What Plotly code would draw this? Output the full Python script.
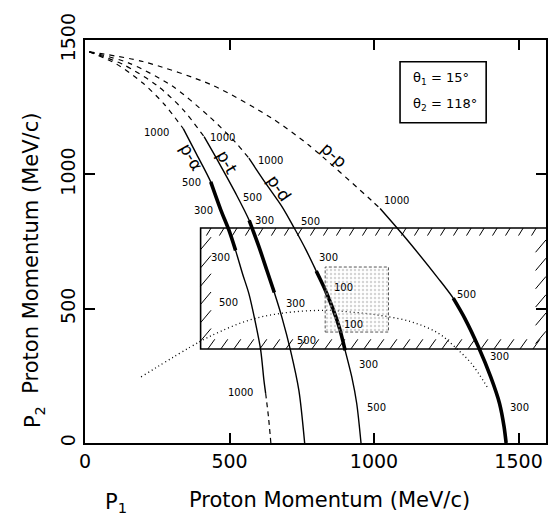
import plotly.graph_objects as go

# ---------------- data ----------------
# dashed (unobserved) upper parts of the kinematic loci
pa_dash_x = [15, 110, 200, 275, 340]
pa_dash_y = [1456, 1410, 1340, 1260, 1170]
pt_dash_x = [15, 130, 250, 340, 412]
pt_dash_y = [1456, 1410, 1330, 1240, 1140]
pd_dash_x = [15, 150, 300, 430, 520, 567]
pd_dash_y = [1456, 1415, 1330, 1215, 1120, 1060]
pp_dash_x = [15, 200, 440, 646, 774, 991, 1021]
pp_dash_y = [1456, 1420, 1332, 1209, 1109, 903, 873]

# solid parts
pa_x = [340, 384, 435, 470, 498, 521, 545, 567, 590, 608, 619, 625]
pa_y = [1170, 1079, 972, 867, 792, 717, 630, 556, 446, 345, 234, 185]
pa_tail_x = [625, 635, 643]
pa_tail_y = [185, 95, 0]
pt_x = [412, 464, 521, 568, 602, 630, 655, 682, 711, 740, 760]
pt_y = [1140, 1042, 930, 829, 730, 640, 560, 465, 345, 196, 0]
pd_x = [567, 625, 682, 722, 765, 800, 835, 877, 900, 923, 940, 955]
pd_y = [1060, 967, 879, 804, 718, 640, 560, 440, 345, 246, 148, 0]
pp_x = [1021, 1100, 1222, 1274, 1314, 1361, 1404, 1434, 1450, 1457]
pp_y = [873, 775, 613, 539, 464, 358, 245, 148, 60, 0]

# thick (accepted) ranges in P2
pa_thick = [700, 975]
pt_thick = [555, 830]
pd_thick = [340, 650]
pp_thick = [0, 545]

# dotted curve
dot_x = [194, 395, 464, 567, 681, 832, 913, 1015, 1129, 1222, 1279, 1336, 1394]
dot_y = [246, 376, 413, 457, 483, 494, 488, 476, 451, 409, 358, 297, 204]

# hatched acceptance box and stippled box
hatch_x = [400, 1595]
hatch_y = [350, 800]
stip_x = [831, 1050]
stip_y = [413, 655]

# number labels along the curves
num_text = ["1000", "500", "300", "300", "500", "1000",
            "1000", "500", "300", "300", "500",
            "1000", "500", "300", "100", "100", "300", "500",
            "1000", "500", "300", "300"]
num_x = [247, 368, 409, 468, 497, 537,
         474, 581, 622, 729, 767,
         643, 780, 843, 895, 929, 981, 1008,
         1077, 1321, 1435, 1504]
num_y = [1157, 970, 866, 691, 524, 189,
         1138, 915, 829, 520, 382,
         1052, 823, 692, 580, 442, 293, 133,
         903, 553, 323, 133]

# curve names
name_text = ["p-α", "p-t", "p-d", "p-p"]
name_x = [368, 491, 671, 862]
name_y = [1063, 1045, 948, 1071]
name_ang = [60, 60, 55, 42]

# legend box
leg_x = [1090, 1388]
leg_y = [1192, 1419]

ticks = [0, 500, 1000, 1500]

# ---------------- figure ----------------
fig = go.Figure()
BLK = "black"


def add_line(x, y, width=1.4, dash="solid"):
    fig.add_trace(go.Scatter(x=x, y=y, mode="lines", showlegend=False, hoverinfo="skip",
                             line=dict(color=BLK, width=width, dash=dash, shape="spline", smoothing=0.8)))


for dx, dy in [(pa_dash_x, pa_dash_y), (pt_dash_x, pt_dash_y), (pd_dash_x, pd_dash_y), (pp_dash_x, pp_dash_y)]:
    add_line(dx, dy, 1.2, "5px,5px")

for sx, sy, th in [(pa_x, pa_y, pa_thick), (pt_x, pt_y, pt_thick), (pd_x, pd_y, pd_thick), (pp_x, pp_y, pp_thick)]:
    add_line(sx, sy, 1.4)
    tx = [a for a, b in zip(sx, sy) if th[0] <= b <= th[1]]
    ty = [b for b in sy if th[0] <= b <= th[1]]
    add_line(tx, ty, 3.6)

add_line(pa_tail_x, pa_tail_y, 1.2, "5px,4px")

# dotted curve
fig.add_trace(go.Scatter(x=dot_x, y=dot_y, mode="lines", showlegend=False, hoverinfo="skip",
                         line=dict(color=BLK, width=1.3, dash="1px,3px", shape="spline")))

# stippled box
fig.add_trace(go.Scatter(x=[stip_x[0], stip_x[1], stip_x[1], stip_x[0], stip_x[0]],
                         y=[stip_y[0], stip_y[0], stip_y[1], stip_y[1], stip_y[0]],
                         mode="lines", fill="toself", showlegend=False, hoverinfo="skip",
                         fillcolor="rgba(255,255,255,0)",
                         fillpattern=dict(shape=".", fgcolor="#aaaaaa", bgcolor="rgba(255,255,255,0)",
                                          size=4, solidity=0.3),
                         line=dict(color="#555555", width=1, dash="3px,2px")))

# hatched box outline
fig.add_trace(go.Scatter(x=[hatch_x[1], hatch_x[0], hatch_x[0], hatch_x[1]],
                         y=[hatch_y[1], hatch_y[1], hatch_y[0], hatch_y[0]],
                         mode="lines", showlegend=False, hoverinfo="skip",
                         line=dict(color=BLK, width=1.6)))

# hatch marks along the inside of the box edges
hx, hy = [], []
x = hatch_x[0] + 20
while x < hatch_x[1] - 20:
    hx += [x, x + 16, None]
    hy += [hatch_y[1] - 28, hatch_y[1], None]
    hx += [x + 5, x + 29, None]
    hy += [hatch_y[0], hatch_y[0] + 36, None]
    x += 45
y = hatch_y[0] + 30
while y < hatch_y[1] - 40:
    hx += [hatch_x[0], hatch_x[0] + 36, None]
    hy += [y, y + 46, None]
    hx += [hatch_x[1] - 36, hatch_x[1], None]
    hy += [y - 10, y + 36, None]
    y += 68
fig.add_trace(go.Scatter(x=hx, y=hy, mode="lines", showlegend=False, hoverinfo="skip",
                         line=dict(color=BLK, width=1)))

# number labels
for t, xx, yy in zip(num_text, num_x, num_y):
    fig.add_annotation(x=xx, y=yy, text=t, showarrow=False,
                       font=dict(family="DejaVu Sans", size=10, color=BLK))

# curve names
for t, xx, yy, a in zip(name_text, name_x, name_y, name_ang):
    fig.add_annotation(x=xx, y=yy, text=t, showarrow=False, textangle=a,
                       font=dict(family="DejaVu Sans", size=17, color=BLK))

# legend box
fig.add_shape(type="rect", x0=leg_x[0], x1=leg_x[1], y0=leg_y[0], y1=leg_y[1],
              line=dict(color=BLK, width=1.6))
fig.add_annotation(x=leg_x[0] + 38, y=1355, text="θ<sub>1</sub> = 15°", showarrow=False, xanchor="left",
                   font=dict(family="DejaVu Sans", size=13, color=BLK))
fig.add_annotation(x=leg_x[0] + 38, y=1261, text="θ<sub>2</sub> = 118°", showarrow=False, xanchor="left",
                   font=dict(family="DejaVu Sans", size=13, color=BLK))

# axis titles
TF = dict(family="DejaVu Sans", size=21, color=BLK)
fig.add_annotation(xref="paper", yref="paper", x=0.530, y=-0.141, text="Proton Momentum (MeV/c)",
                   showarrow=False, font=TF, xanchor="center", yanchor="middle")
fig.add_annotation(xref="paper", yref="paper", x=0.067, y=-0.148, text="P<sub>1</sub>",
                   showarrow=False, font=TF, xanchor="center", yanchor="middle")
fig.add_annotation(xref="paper", yref="paper", x=-0.119, y=0.47, text="Proton Momentum (MeV/c)",
                   showarrow=False, font=TF, textangle=-90, xanchor="center", yanchor="middle")
fig.add_annotation(xref="paper", yref="paper", x=-0.11, y=0.065, text="P<sub>2</sub>",
                   showarrow=False, font=TF, textangle=-90, xanchor="center", yanchor="middle")

axis_common = dict(showgrid=False, zeroline=False, showline=True, linecolor=BLK, linewidth=2,
                   mirror="ticks", ticks="inside", ticklen=10, tickwidth=1.5, tickcolor=BLK,
                   tickvals=ticks, ticktext=[str(v) for v in ticks],
                   tickfont=dict(family="DejaVu Sans", size=19, color=BLK))
fig.update_xaxes(range=[0, 1595], **axis_common)
fig.update_yaxes(range=[0, 1500], tickangle=-90, **axis_common)

fig.update_layout(width=555, height=516, margin=dict(l=85, r=7, t=40, b=73),
                  plot_bgcolor="white", paper_bgcolor="white", showlegend=False)

fig.write_html("out.html")
